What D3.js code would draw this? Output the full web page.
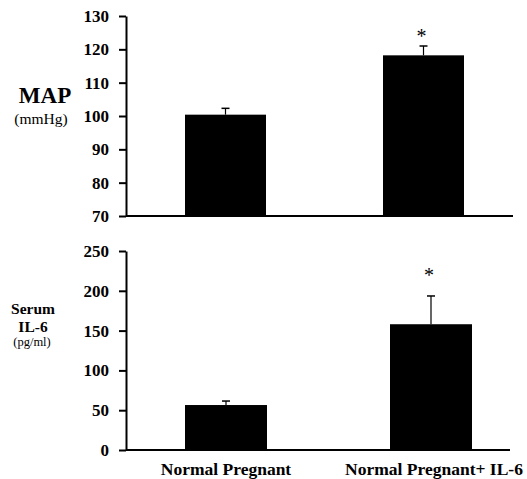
<!DOCTYPE html>
<html>
<head>
<meta charset="utf-8">
<script src="https://cdn.jsdelivr.net/npm/d3@7"></script>
<style>
  body { margin: 0; background: #fff; }
  svg { display: block; }
  svg text { font-family: "Liberation Serif", "Times New Roman", serif; fill: #000; }
</style>
</head>
<body>
<div id="chart"></div>
<script>
// groups and values
const groups = ["Normal Pregnant", "Normal Pregnant+ IL-6"];
const mapMean = [100.4, 118.2];
const mapErr = [1.9, 2.8];
const il6Mean = [56.5, 158];
const il6Err = [5, 35.5];
const mapTicks = [70, 80, 90, 100, 110, 120, 130];
const il6Ticks = [0, 50, 100, 150, 200, 250];
const stars = [false, true];

const width = 527, height = 479;
const svg = d3.select("#chart").append("svg")
    .attr("width", width)
    .attr("height", height);

const axisX = 126;

// draws one bar panel
function panel(opts) {
    const y = d3.scaleLinear().domain(opts.domain).range([opts.bottom, opts.top]);
    const g = svg.append("g");

    // x baseline
    g.append("line")
        .attr("x1", axisX).attr("x2", opts.xEnd)
        .attr("y1", y(opts.domain[0])).attr("y2", y(opts.domain[0]))
        .attr("stroke", "#000").attr("stroke-width", 2);

    const yAxis = g.append("g")
        .attr("transform", `translate(${axisX},0)`)
        .call(d3.axisLeft(y).tickValues(opts.ticks).tickSize(7).tickPadding(10).tickSizeOuter(0));
    yAxis.attr("font-family", null);
    yAxis.select(".domain").attr("stroke-width", 2);
    yAxis.selectAll(".tick line").attr("stroke-width", 2);
    yAxis.selectAll("text")
        .style("font-weight", "bold")
        .style("font-size", "17px");

    opts.means.forEach((m, i) => {
        const x0 = opts.barX[i], w = opts.barW;
        const cx = x0 + w / 2;
        g.append("rect")
            .attr("x", x0).attr("y", y(m))
            .attr("width", w).attr("height", y(opts.domain[0]) - y(m))
            .attr("fill", "#000");
        const top = y(m + opts.errs[i]);
        g.append("line")
            .attr("x1", cx).attr("x2", cx)
            .attr("y1", y(m)).attr("y2", top)
            .attr("stroke", "#000").attr("stroke-width", 1.2);
        g.append("line")
            .attr("x1", cx - 4).attr("x2", cx + 4)
            .attr("y1", top).attr("y2", top)
            .attr("stroke", "#000").attr("stroke-width", 1.5);
        if (stars[i]) {
            g.append("text")
                .attr("x", cx - 2).attr("y", top - opts.starGap)
                .attr("text-anchor", "middle")
                .style("font-size", "20px")
                .text("*");
        }
    });
    return y;
}

panel({
    domain: [70, 130], top: 16, bottom: 216, ticks: mapTicks,
    means: mapMean, errs: mapErr,
    barX: [185, 383], barW: 81, xEnd: 513, starGap: 3
});

panel({
    domain: [0, 250], top: 251, bottom: 450, ticks: il6Ticks,
    means: il6Mean, errs: il6Err,
    barX: [185, 390], barW: 82, xEnd: 510, starGap: 14
});

// y titles
function label(x, y, size, bold, txt) {
    svg.append("text")
        .attr("x", x).attr("y", y)
        .attr("text-anchor", "middle")
        .style("font-size", size + "px")
        .style("font-weight", bold ? "bold" : "normal")
        .text(txt);
}
label(45, 103, 23, true, "MAP");
label(41, 124, 15.5, false, "(mmHg)");
label(33, 314, 15.5, true, "Serum");
label(33, 332, 15.5, true, "IL-6");
label(32, 346, 12.5, false, "(pg/ml)");

// category labels
const catX = [226, 434];
svg.selectAll(".cat")
    .data(groups)
    .enter().append("text")
    .attr("class", "cat")
    .attr("x", (d, i) => catX[i])
    .attr("y", 475)
    .attr("text-anchor", "middle")
    .style("font-size", "17.5px")
    .style("font-weight", "bold")
    .text(d => d);
</script>
</body>
</html>
